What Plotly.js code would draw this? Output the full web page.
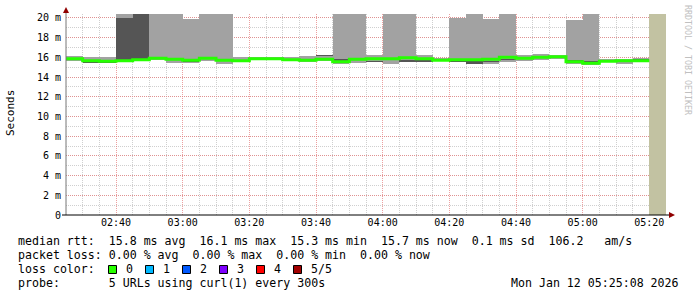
<!DOCTYPE html>
<html><head><meta charset="utf-8">
<script src="https://cdn.plot.ly/plotly-3.0.1.min.js"></script>
<style>html,body{margin:0;padding:0;background:#fff}#g{width:697px;height:297px}</style>
</head><body><div id="g"></div>
<script>
// 5-minute bins (start times)
const binStart = ['02:25','02:30','02:35','02:40','02:45','02:50','02:55','03:00','03:05','03:10','03:15','03:20',
 '03:25','03:30','03:35','03:40','03:45','03:50','03:55','04:00','04:05','04:10','04:15','04:20','04:25','04:30',
 '04:35','04:40','04:45','04:50','04:55','05:00','05:05','05:10','05:15'];
// smoke extent (ms); 20.4 = clipped at top of graph
const smokeMin = [15.65,15.45,15.45,15.6,15.7,15.7,15.45,15.4,15.6,15.35,15.5,15.7,15.7,15.6,15.5,15.6,15.35,15.4,15.55,15.3,15.5,15.55,15.6,15.55,15.35,15.3,15.55,15.65,15.75,15.8,15.3,15.25,15.5,15.35,15.5];
const smokeMax = [16.15,16.05,16.0,20.4,20.4,20.4,20.4,19.9,20.4,20.4,16.05,16.05,16.05,16.05,16.1,16.25,20.4,20.4,16.25,20.4,20.4,16.25,15.95,20.0,20.4,19.9,20.4,16.2,16.35,16.25,19.8,20.4,15.8,15.85,15.9];
// denser inner smoke band
const darkLo = [null,15.45,15.45,15.65,15.75,null,null,15.55,15.7,null,null,null,null,null,null,16.15,15.6,null,15.55,null,15.5,15.55,null,15.55,15.35,15.5,15.75,15.7,15.8,null,15.65,15.5,15.5,null,15.75];
const darkHi = [null,15.55,15.52,20.0,20.4,null,null,15.62,15.77,null,null,null,null,null,null,16.25,15.85,null,15.65,null,15.75,15.7,null,15.62,15.6,15.65,15.82,15.77,15.87,null,15.72,15.6,15.6,null,15.82];
// median rtt (ms)
const medianRtt = [15.85,15.65,15.6,15.65,15.75,15.9,15.8,15.7,15.9,15.7,15.65,15.85,15.85,15.75,15.7,15.8,15.55,15.8,15.85,15.85,15.95,15.85,15.7,15.75,15.75,15.8,16.0,15.9,16.0,16.05,15.55,15.4,15.6,15.65,15.65];
// unknown / current slot
const unknownStart = ['05:20'];
const unknownTop = [20.4];
const lineEnd = '05:20';

const yTickVals = [0,2,4,6,8,10,12,14,16,18,20];
const yTickText = ['0','2 m','4 m','6 m','8 m','10 m','12 m','14 m','16 m','18 m','20 m'];

const DAY = '2026-01-12 ';
const xs = binStart.map(t => DAY + t);
const FONT = 'DejaVu Sans Mono';

const traces = [
  {type:'bar', x: xs, base: smokeMin, y: smokeMax.map((v,i)=>v-smokeMin[i]),
   width: 300000, offset: 0, marker:{color:'#a2a2a2', line:{width:0}}},
  {type:'bar', x: xs, base: darkLo, y: darkHi.map((v,i)=> v==null?null:v-darkLo[i]),
   width: 300000, offset: 0, marker:{color:'#555555', line:{width:0}}},
  {type:'bar', x: unknownStart.map(t=>DAY+t), base:[0], y: unknownTop,
   width: 300000, offset: 0, marker:{color:'#c2c2a2', line:{width:0}}},
  {type:'scatter', mode:'lines', x: xs.concat([DAY+lineEnd]), y: medianRtt.concat([medianRtt[medianRtt.length-1]]),
   line:{color:'#26ff00', width:3, shape:'hv'}}
];

const L = 66, T = 14, W = 600, H = 201;
const px = x => (x - L)/W;
const py = y => (T + H - y)/H;
const nb = s => s.replace(/ /g, '\u00a0');

function txt(x, y, s, opt) {
  return Object.assign({xref:'paper', yref:'paper', x: px(x), y: py(y), text: nb(s), showarrow:false,
    xanchor:'left', yanchor:'middle', font:{family:FONT, size:11.6, color:'#000'}}, opt||{});
}

const lossColors = ['#26ff00','#00b8ff','#0059ff','#7e00ff','#ff0000','#a10000'];
const lossLabels = ['0','1','2','3','4','5/5'];
const sqX = [108.5,145.5,182.5,219.5,256.5,293.5];

const annotations = [
  txt(16, 241, 'median rtt:  15.8 ms avg  16.1 ms max  15.3 ms min  15.7 ms now  0.1 ms sd  106.2   am/s'),
  txt(16, 255, 'packet loss: 0.00 % avg  0.00 % max  0.00 % min  0.00 % now'),
  txt(16, 269, 'loss color:'),
  txt(16, 283, 'probe:       5 URLs using curl(1) every 300s'),
  txt(681, 283, 'Mon Jan 12 05:25:08 2026', {xanchor:'right'}),
  {xref:'paper', yref:'paper', x: px(10), y: py(113), text:'Seconds', showarrow:false, textangle:-90,
   xanchor:'center', yanchor:'middle', font:{family:FONT, size:11, color:'#000'}},
  {xref:'paper', yref:'paper', x: px(688), y: py(60), text: nb('RRDTOOL / TOBI OETIKER'), showarrow:false, textangle:90,
   xanchor:'center', yanchor:'middle', font:{family:FONT, size:8.3, color:'#c0c0c0'}}
];
lossLabels.forEach((l,i)=> annotations.push(txt(sqX[i]+15, 269, l)));

const shapes = [];
lossColors.forEach((c,i)=> shapes.push({type:'rect', xref:'paper', yref:'paper',
  x0: px(sqX[i]), x1: px(sqX[i]+8), y0: py(273.5), y1: py(265.5), fillcolor:c, line:{color:'#000', width:1}}));
// axis lines with arrows
shapes.push({type:'line', xref:'paper', yref:'paper', x0: px(66), x1: px(66), y0: py(215), y1: py(10), line:{color:'#777', width:1}});
shapes.push({type:'line', xref:'paper', yref:'paper', x0: px(62), x1: px(670), y0: py(215), y1: py(215), line:{color:'#000', width:1}});
shapes.push({type:'path', xref:'paper', yref:'paper',
  path: `M ${px(63)} ${py(13)} L ${px(69)} ${py(13)} L ${px(66)} ${py(7)} Z`, fillcolor:'#900000', line:{width:0}});
shapes.push({type:'path', xref:'paper', yref:'paper',
  path: `M ${px(669)} ${py(212)} L ${px(669)} ${py(218)} L ${px(675)} ${py(215)} Z`, fillcolor:'#900000', line:{width:0}});

const layout = {
  width: 697, height: 297,
  margin: {l: L, r: 697 - L - W, t: T, b: 297 - T - H, pad: 0},
  paper_bgcolor:'#fff', plot_bgcolor:'#fff',
  showlegend:false, barmode:'overlay', bargap:0,
  xaxis: {type:'date', range:[DAY+'02:25', DAY+'05:25'], tick0: DAY+'02:40', dtick: 1200000,
    tickformat:'%H:%M', ticks:'', showline:false, zeroline:false,
    gridcolor:'rgba(230,120,120,0.7)', griddash:'1px,1px', gridwidth:1,
    minor:{tick0: DAY+'02:25', dtick:300000, showgrid:true, gridcolor:'#cfcfcf', griddash:'1px,1px', gridwidth:1},
    tickfont:{family:FONT, size:10, color:'#000'}, fixedrange:true},
  yaxis: {range:[0, 20.4], tickvals: yTickVals, ticktext: yTickText, ticks:'', showline:false, zeroline:false,
    gridcolor:'rgba(230,120,120,0.7)', griddash:'1px,1px', gridwidth:1,
    minor:{dtick:1, showgrid:true, gridcolor:'#cfcfcf', griddash:'1px,1px', gridwidth:1},
    ticklabelstandoff: 4,
    tickfont:{family:FONT, size:10, color:'#000'}, fixedrange:true},
  annotations, shapes, hovermode:false
};
Plotly.newPlot('g', traces, layout, {displayModeBar:false, staticPlot:true});
</script></body></html>
